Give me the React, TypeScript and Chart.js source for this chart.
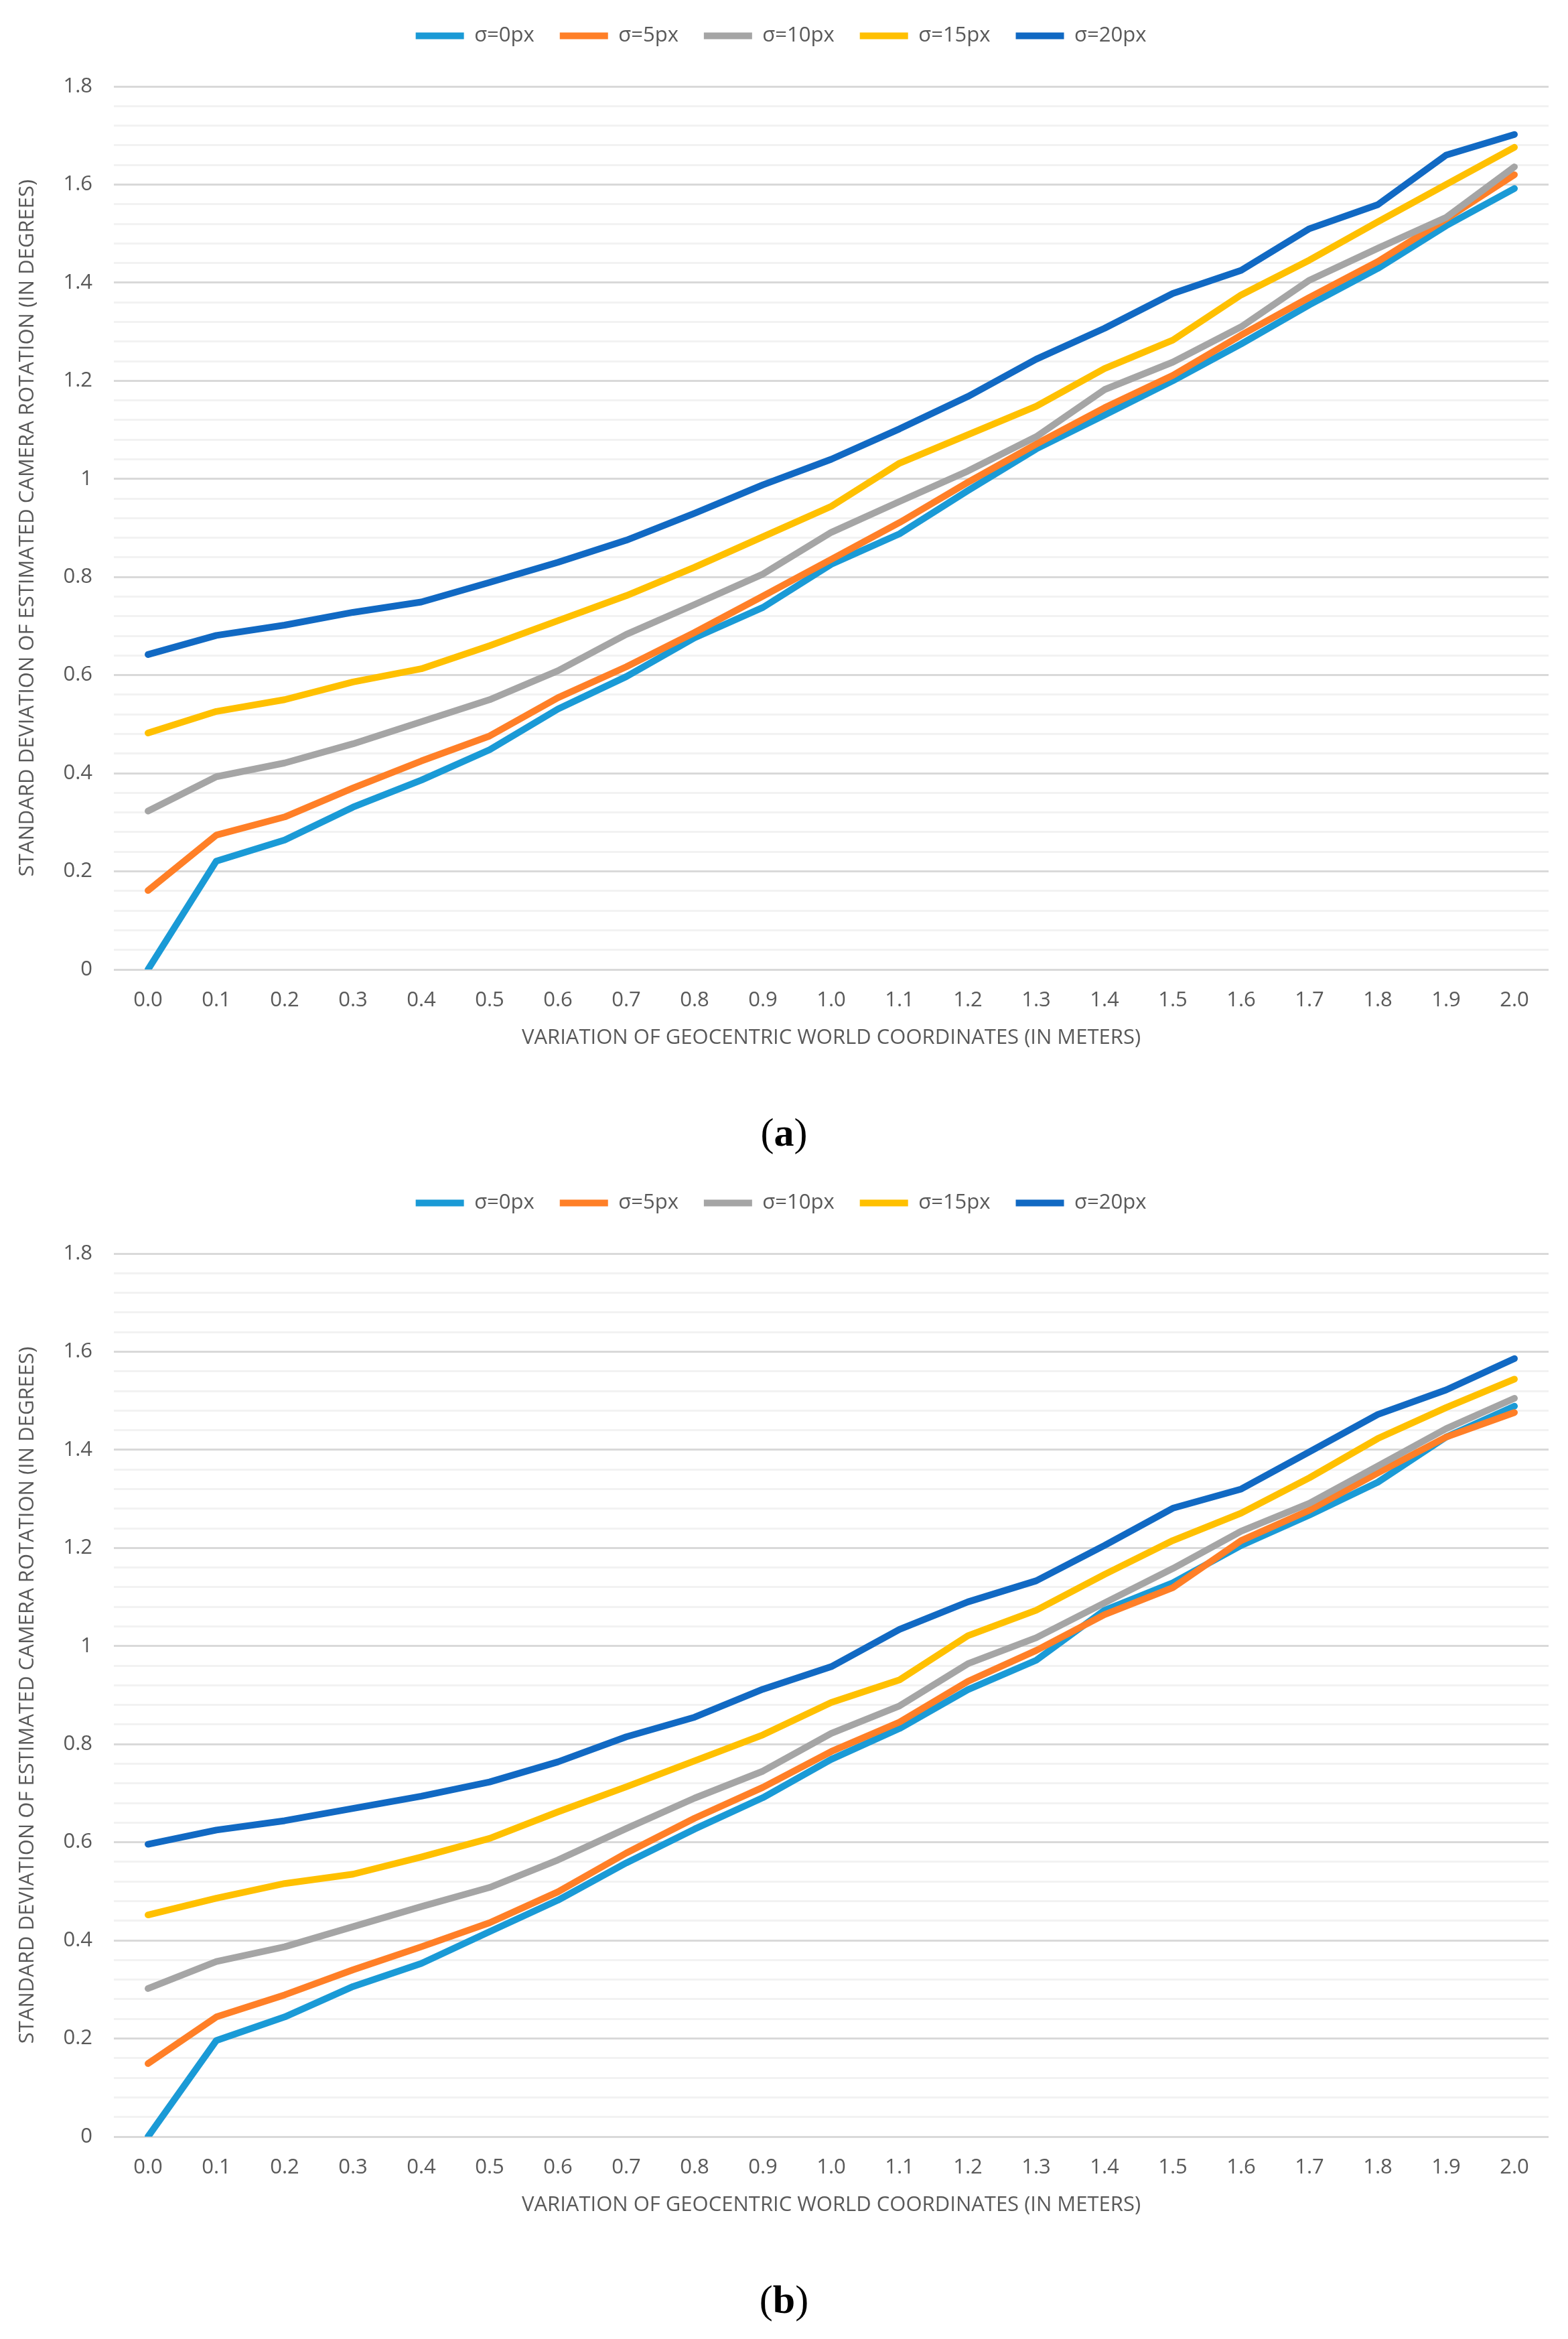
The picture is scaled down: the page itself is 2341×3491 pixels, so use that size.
import { useEffect, useRef } from 'react';
import { Chart, registerables, ChartConfiguration } from 'chart.js';

Chart.register(...registerables);

// x categories (variation in meters)
const categories = ['0.0', '0.1', '0.2', '0.3', '0.4', '0.5', '0.6', '0.7', '0.8', '0.9', '1.0',
  '1.1', '1.2', '1.3', '1.4', '1.5', '1.6', '1.7', '1.8', '1.9', '2.0'];

const seriesLabels = ['σ=0px', 'σ=5px', 'σ=10px', 'σ=15px', 'σ=20px'];
const seriesColors = ['#1A9AD6', '#FF7F27', '#A5A5A5', '#FFC000', '#1169C3'];

// chart (a)
const a_s0 = [0, 0.221, 0.264, 0.331, 0.386, 0.448, 0.531, 0.597, 0.676, 0.738, 0.826, 0.888, 0.976, 1.061, 1.130, 1.200, 1.275, 1.355, 1.429, 1.516, 1.592];
const a_s5 = [0.161, 0.274, 0.311, 0.370, 0.425, 0.476, 0.554, 0.617, 0.687, 0.761, 0.836, 0.911, 0.993, 1.071, 1.145, 1.211, 1.293, 1.370, 1.443, 1.530, 1.620];
const a_s10 = [0.323, 0.393, 0.421, 0.460, 0.505, 0.550, 0.609, 0.683, 0.744, 0.806, 0.891, 0.954, 1.016, 1.086, 1.182, 1.238, 1.310, 1.405, 1.470, 1.533, 1.636];
const a_s15 = [0.482, 0.526, 0.550, 0.586, 0.613, 0.660, 0.711, 0.762, 0.820, 0.882, 0.944, 1.032, 1.090, 1.148, 1.225, 1.283, 1.375, 1.446, 1.524, 1.600, 1.676];
const a_s20 = [0.642, 0.681, 0.702, 0.728, 0.749, 0.789, 0.830, 0.875, 0.930, 0.988, 1.040, 1.102, 1.168, 1.244, 1.307, 1.378, 1.425, 1.510, 1.559, 1.660, 1.702];

// chart (b)
const b_s0 = [0, 0.196, 0.244, 0.306, 0.353, 0.418, 0.482, 0.558, 0.627, 0.691, 0.769, 0.832, 0.911, 0.971, 1.073, 1.129, 1.205, 1.267, 1.334, 1.426, 1.489];
const b_s5 = [0.149, 0.244, 0.289, 0.340, 0.387, 0.436, 0.499, 0.578, 0.649, 0.712, 0.785, 0.845, 0.928, 0.991, 1.064, 1.119, 1.215, 1.277, 1.353, 1.426, 1.476];
const b_s10 = [0.302, 0.357, 0.387, 0.428, 0.469, 0.508, 0.564, 0.628, 0.690, 0.745, 0.822, 0.878, 0.964, 1.017, 1.088, 1.158, 1.234, 1.291, 1.367, 1.443, 1.505];
const b_s15 = [0.452, 0.486, 0.516, 0.535, 0.570, 0.608, 0.662, 0.713, 0.766, 0.819, 0.885, 0.931, 1.021, 1.073, 1.146, 1.215, 1.271, 1.343, 1.423, 1.486, 1.544];
const b_s20 = [0.596, 0.625, 0.644, 0.669, 0.694, 0.723, 0.764, 0.815, 0.855, 0.912, 0.958, 1.034, 1.090, 1.133, 1.205, 1.281, 1.320, 1.396, 1.472, 1.522, 1.586];

const yMax = 1.8;
const yMinorStep = 0.04;

const xTitle = 'VARIATION OF GEOCENTRIC WORLD COORDINATES (IN METERS)';
const yTitle = 'STANDARD DEVIATION OF ESTIMATED CAMERA ROTATION (IN DEGREES)';

const TEXT = '#595959';
const FONT = 'Open Sans, DejaVu Sans, sans-serif';

const isMajor = (v: number) => Math.round(v * 100) % 20 === 0;

function LineChart({ series }: { series: number[][] }) {
  const canvasRef = useRef<HTMLCanvasElement>(null);

  useEffect(() => {
    if (!canvasRef.current) return;

    // fixed legend height so the plot starts where the reference does
    const legendHeight = {
      id: 'legendHeight',
      beforeInit(chart: any) {
        const fit = chart.legend.fit;
        chart.legend.fit = function () {
          fit.bind(chart.legend)();
          this.height = 129;
        };
      },
    };

    const chart = new Chart(canvasRef.current, {
      type: 'line',
      data: {
        labels: categories,
        datasets: series.map((values, i) => ({
          label: seriesLabels[i],
          data: values,
          borderColor: seriesColors[i],
          backgroundColor: seriesColors[i],
          borderWidth: 10,
          borderCapStyle: 'round',
          borderJoinStyle: 'round',
          pointRadius: 0,
          tension: 0,
          fill: false,
          order: series.length - i,
        })),
      },
      options: {
        responsive: true,
        maintainAspectRatio: false,
        animation: false,
        layout: { padding: { left: 20, right: 29, top: 0, bottom: 0 } },
        plugins: {
          legend: {
            position: 'top',
            labels: {
              usePointStyle: true,
              pointStyle: 'line',
              pointStyleWidth: 72,
              padding: 38,
              color: TEXT,
              font: { family: FONT, size: 31 },
              sort: (a: any, b: any) => a.datasetIndex - b.datasetIndex,
            },
          },
          tooltip: { enabled: false },
        },
        scales: {
          x: {
            type: 'category',
            offset: true,
            grid: { display: false, drawTicks: false },
            border: { display: false },
            ticks: {
              color: TEXT,
              font: { family: FONT, size: 31 },
              padding: 28,
              autoSkip: false,
              maxRotation: 0,
            },
            title: {
              display: true,
              text: xTitle,
              color: TEXT,
              font: { family: FONT, size: 31 },
              padding: { top: 0, bottom: 32 },
            },
            afterFit(scale: any) {
              scale.height = 153;
            },
          },
          y: {
            min: 0,
            max: yMax,
            grid: {
              drawTicks: false,
              lineWidth: 3,
              color: (ctx: any) => (isMajor(ctx.tick.value) ? '#D9D9D9' : '#F2F2F2'),
            },
            border: { display: false },
            ticks: {
              stepSize: yMinorStep,
              maxTicksLimit: 100,
              autoSkip: false,
              padding: 32,
              color: TEXT,
              font: { family: FONT, size: 31 },
              callback: (value: any) => {
                const v = Number(value);
                if (!isMajor(v)) return '';
                if (v === 0) return '0';
                if (Math.abs(v - 1) < 1e-9) return '1';
                return v.toFixed(1);
              },
            },
            title: {
              display: true,
              text: yTitle,
              color: TEXT,
              font: { family: FONT, size: 31 },
              padding: { top: 3, bottom: 0 },
            },
            afterFit(scale: any) {
              scale.width = 150;
            },
          },
        },
      },
      plugins: [legendHeight],
    } as ChartConfiguration);

    return () => {
      chart.destroy();
    };
  }, [series]);

  return <canvas ref={canvasRef} />;
}

const captionStyle: React.CSSProperties = {
  position: 'absolute',
  left: 0,
  width: 2341,
  height: 80,
  lineHeight: '80px',
  textAlign: 'center',
  fontFamily: 'Liberation Serif, Times New Roman, serif',
  fontSize: 60,
  color: '#000',
};

const seriesA = [a_s0, a_s5, a_s10, a_s15, a_s20];
const seriesB = [b_s0, b_s5, b_s10, b_s15, b_s20];

export default function App() {
  return (
    <div style={{ position: 'absolute', left: 0, top: 0, width: 2341, height: 3491, background: '#fff' }}>
      <div style={{ position: 'absolute', left: 0, top: 0, width: 2341, height: 1600 }}>
        <LineChart series={seriesA} />
      </div>
      <div style={{ ...captionStyle, top: 1650 }}>
        (<b>a</b>)
      </div>
      <div style={{ position: 'absolute', left: 0, top: 1742, width: 2341, height: 1600 }}>
        <LineChart series={seriesB} />
      </div>
      <div style={{ ...captionStyle, top: 3392 }}>
        (<b>b</b>)
      </div>
    </div>
  );
}
